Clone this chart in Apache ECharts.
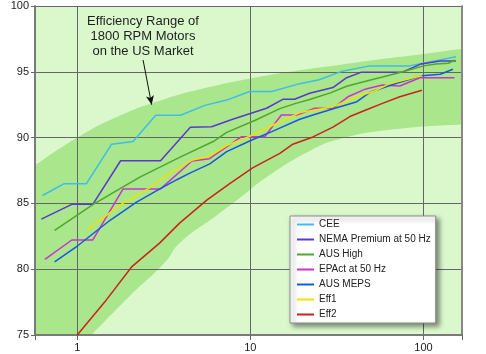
<!DOCTYPE html>
<html>
<head>
<meta charset="utf-8">
<script src="https://cdn.jsdelivr.net/npm/echarts@6/dist/echarts.min.js"></script>
<style>
html, body { margin: 0; background: #fff; }
#main { width: 486px; height: 354px; }
</style>
</head>
<body>
<div id="main"></div>
<script>
// motor output (log axis) vs efficiency %
var cee = [[0.63,85.6],[0.84,86.5],[1.13,86.5],[1.58,89.5],[2.1,89.7],[2.84,91.7],[3.95,91.7],[5.46,92.45],[7.3,92.85],[9.9,93.5],[13.3,93.5],[19.3,94.1],[25,94.4],[34,95.05],[49,95.45],[83,95.45],[100,95.65],[124,95.9],[154,96.15]];
var nema = [[0.62,83.8],[0.93,84.93],[1.23,84.93],[1.78,88.24],[3.03,88.24],[4.5,90.78],[5.97,90.83],[7.9,91.4],[12.4,92.23],[15.4,92.91],[18,92.91],[22,93.37],[30,93.8],[36,94.55],[43.5,94.96],[75,94.96],[97,95.6],[125,95.82],[154,95.82]];
var ausHigh = [[0.74,82.95],[1.23,84.9],[1.65,85.9],[2.3,87.0],[3.9,88.5],[6.1,89.7],[7.3,90.4],[10.6,91.3],[14.8,92.2],[18.3,92.6],[22,92.9],[29,93.4],[36,93.9],[47,94.3],[58,94.6],[76,95.0],[100,95.45],[118,95.6],[139,95.65],[152,95.9]];
var epact = [[0.65,80.75],[0.93,82.22],[1.23,82.22],[1.84,86.1],[3.03,86.1],[4.6,88.22],[5.8,88.4],[8.9,90.07],[12.1,90.07],[15.1,91.72],[18.5,91.72],[23.6,92.23],[30,92.23],[36.6,93.1],[46.5,93.7],[58,94.0],[73,93.92],[95.5,94.55],[151,94.55]];
var ausMeps = [[0.74,80.55],[1.01,81.8],[1.54,83.7],[2.2,85.1],[3.0,86.1],[3.76,86.8],[4.47,87.3],[5.83,88.0],[7.3,88.93],[10.2,89.82],[13.3,90.45],[19.3,91.39],[23,91.72],[30.8,92.23],[41.3,92.73],[49,93.44],[70,94.13],[98,94.7],[125,94.81],[148,95.19]];
var eff1 = [[1.14,83.0],[1.83,85.0],[2.63,86.2],[3.42,87.3],[4.65,88.3],[5.83,88.6],[7.3,89.4],[9.93,90.1],[13.3,90.9],[19.3,91.9],[23.6,92.1],[30,92.35],[41.3,93.1],[52.5,93.56],[64,94.1],[98,94.7]];
var eff2 = [[1.0,75.0],[1.44,77.5],[2.07,80.2],[3.0,82.0],[3.9,83.5],[5.6,85.25],[7.6,86.5],[10.3,87.7],[14.8,88.8],[17.6,89.5],[23,90.05],[30,90.8],[37.6,91.6],[46.5,92.1],[58,92.6],[73,93.1],[98,93.6]];

// efficiency range band (upper and lower edge)
var bandTop = [[0.56,87.8],[1,90.0],[1.78,91.7],[3.16,92.9],[5.62,93.8],[10,94.5],[17.8,95.05],[31.6,95.5],[56.2,95.95],[100,96.35],[178,96.8]];
var bandBottom = [[1.21,75.0],[1.99,77.9],[3.2,80.5],[3.91,82.0],[6.4,84.1],[9.06,85.6],[12.1,86.9],[22.1,89.0],[32.9,89.9],[64,90.6],[170,91.0]];

var names = ['CEE', 'NEMA Premium at 50 Hz', 'AUS High', 'EPAct at 50 Hz', 'AUS MEPS', 'Eff1', 'Eff2'];
var lines = [cee, nema, ausHigh, epact, ausMeps, eff1, eff2];
var colors = ['#3dbdea', '#5a38cc', '#4ea72a', '#cc33cc', '#1758e0', '#f2e200', '#c8231c'];
var yTicks = [75, 80, 85, 90, 95, 100];
var arrow = [[2.4, 95.9], [2.69, 92.5]];

var font = 'Liberation Sans, Arial, sans-serif';
var lightGreen = '#dbf8cd';
var darkGreen = '#a9e68c';

var myChart = echarts.init(document.getElementById('main'));

var series = [{
    type: 'line',
    data: bandTop,
    smooth: true,
    symbol: 'none',
    z: 0.5,
    lineStyle: { width: 0 },
    areaStyle: { color: darkGreen, opacity: 1, origin: 'start' },
    silent: true
}, {
    type: 'line',
    data: bandBottom,
    smooth: true,
    symbol: 'none',
    z: 0.5,
    lineStyle: { width: 0 },
    areaStyle: { color: lightGreen, opacity: 1, origin: 'start' },
    silent: true
}];

lines.forEach(function (d, i) {
    series.push({
        name: names[i],
        type: 'line',
        data: d,
        symbol: 'none',
        z: 2,
        color: colors[i],
        lineStyle: { width: 1.5, color: colors[i] }
    });
});

// arrow pointing at the band
series[2].markLine = {
    silent: true,
    symbol: ['none', 'arrow'],
    symbolSize: [6, 9],
    label: { show: false },
    lineStyle: { color: '#111', width: 1, type: 'solid' },
    data: [[{ coord: arrow[0] }, { coord: arrow[1] }]]
};

var option = {
    animation: false,
    textStyle: { fontFamily: font },
    grid: {
        left: 35, top: 6, right: 24, bottom: 19,
        show: true,
        backgroundColor: lightGreen,
        borderWidth: 0
    },
    legend: {
        data: names,
        orient: 'vertical',
        left: 290,
        top: 216,
        padding: [2, 5, 2, 7],
        itemWidth: 17,
        itemHeight: 2,
        itemGap: 2,
        icon: 'rect',
        backgroundColor: '#fff',
        borderColor: '#8c8c8c',
        borderWidth: 1,
        shadowColor: 'rgba(0,0,0,0.45)',
        shadowBlur: 5,
        shadowOffsetX: 3,
        shadowOffsetY: 3,
        textStyle: { fontSize: 10, color: '#222', lineHeight: 13, fontFamily: font }
    },
    graphic: [{
        type: 'text',
        x: 143,
        y: 14,
        z: 10,
        style: {
            text: 'Efficiency Range of\n1800 RPM Motors\non the US Market',
            textAlign: 'center',
            textVerticalAlign: 'top',
            font: '13px ' + font,
            lineHeight: 15,
            fill: '#1e1e1e'
        }
    }],
    xAxis: {
        type: 'log',
        logBase: 10,
        min: 0.57,
        max: 167,
        z: 1,
        axisLine: { show: true, lineStyle: { color: '#7a7a7a', width: 2 } },
        axisTick: { show: true, length: 5, lineStyle: { color: '#666' } },
        splitLine: { show: true, lineStyle: { color: '#666', width: 1 } },
        minorTick: { show: false },
        axisLabel: {
            margin: 7,
            fontSize: 11,
            color: '#222',
            formatter: function (v) {
                var l = Math.log10(v);
                return Math.abs(l - Math.round(l)) < 1e-6 ? String(Math.round(v)) : '';
            }
        }
    },
    yAxis: [{
        type: 'value',
        min: yTicks[0],
        max: yTicks[yTicks.length - 1],
        interval: 5,
        z: 1,
        axisLine: { show: true, lineStyle: { color: '#7a7a7a', width: 2 } },
        axisTick: { show: true, length: 4, lineStyle: { color: '#666' } },
        splitLine: { show: true, lineStyle: { color: '#666', width: 1 } },
        axisLabel: { margin: 6, fontSize: 11, color: '#222' }
    }, {
        type: 'value',
        position: 'right',
        min: yTicks[0],
        max: yTicks[yTicks.length - 1],
        z: 1,
        axisLine: { show: true, lineStyle: { color: '#888', width: 2 } },
        axisTick: { show: false },
        axisLabel: { show: false },
        splitLine: { show: false }
    }],
    series: series
};

myChart.setOption(option);
</script>
</body>
</html>
